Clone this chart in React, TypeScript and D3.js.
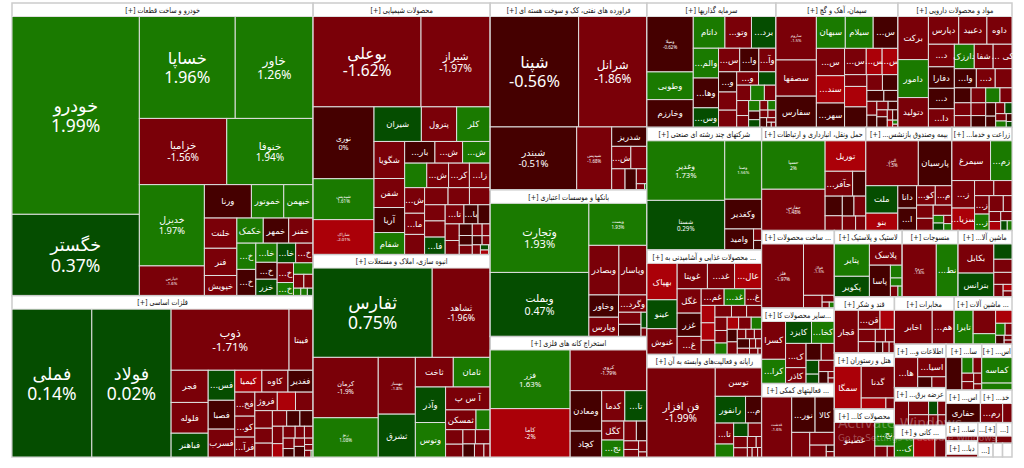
import * as d3 from "d3";

type Stock = [string, number, number]; // label, size, percent change

const groupTitles = [
  "خودرو و ساخت قطعات [+]", "فلزات اساسی [+]", "محصولات شیمیایی [+]", "انبوه سازی، املاک و مستغلات [+]",
  "فراورده های نفتی، کک و سوخت هسته ای [+]", "بانکها و موسسات اعتباری [+]", "استخراج کانه های فلزی [+]",
  "سرمایه گذاریها [+]", "سیمان، آهک و گچ [+]", "مواد و محصولات دارویی [+]",
  "شرکتهای چند رشته ای صنعتی [+]", "... محصولات غذایی و آشامیدنی به [+]", "رایانه و فعالیت‌های وابسته به آن [+]",
  "حمل ونقل، انبارداری و ارتباطات [+]", "بیمه وصندوق بازنشس... [+]", "زراعت و خدما... [+]",
  "... ساخت محصولات [+]", "...سایر محصولات کا [+]", "... فعالیتهای کمکی [+]",
  "لاستیک و پلاستیک [+]", "منسوجات [+]", "ماشین آلا... [+]",
  "قند و شکر [+]", "هتل و رستوران [+]", "محصولات کا... [+]",
  "مخابرات [+]", "... ماشین آلات [+]",
  "اطلاعات و... [+]", "عرضه برق... [+]", "... کانی و [+]",
  "سا... [+]", "اس... [+]", "اس... [+]", "خد... [+]", "سا... [+]", "دبا... [+]", "[+]...", "[...", "[...", "", "",
];
const groupSizes = [
  87892, 48461, 44427, 35754, 29202, 22922, 18840, 16000, 15128, 14136, 14022, 11970, 11742, 10712, 8858, 6180,
  5616, 5472, 5328, 4488, 3696, 3564, 3363, 3360, 2880, 2820, 2726, 2244, 1938, 1632, 1632, 1386, 1120, 1024, 576,
  512, 380, 320, 210, 130, 130,
];

const autoStocks: Stock[] = [
  ["خودرو", 24625, 1.99], ["خگستر", 10125, 0.37], ["خساپا", 9552, 1.96], ["خاور", 7761, 1.26],
  ["خزامیا", 5655, -1.56], ["خنوفا", 5590, 1.94], ["خدیزل", 5166, 1.97], ["خپارس", 1890, -1.6],
  ["ورنا", 1536, -0.6], ["خموتور", 1056, 1.5], ["خبهمن", 960, 1.4], ["خلنت", 960, -1.6], ["فنر", 864, -1.7],
  ["خپویش", 640, -1.5], ["خکمک", 648, 1.5], ["خمهر", 624, -0.5], ["خفنر", 600, -1.4], ["خ...", 486, 1.3],
  ["خ...", 486, -0.4], ["خا...", 399, 1.4], ["خ...", 352, -0.5], ["خزر", 342, 0.6], ["خا...", 357, 0.4],
  ["خ...", 336, -1.6], ["خ...", 315, -1.6], ["خ...", 210, 1.2], ["", 220, 1.3], ["", 140, -1.7], ["", 126, -1.5],
  ["", 53, 1.5], ["", 48, 1.2], ["", 42, 0.6],
];
const metalStocks: Stock[] = [
  ["فملی", 11376, 0.14], ["فولاد", 11304, 0.02], ["ذوب", 6950, -1.71], ["فیبتا", 1420, -1.5], ["فجر", 1150, -1.6],
  ["فلوله", 1100, -1.5], ["فباهنر", 850, 0.5], ["فس...", 770, 0.6], ["فصبا", 740, -0.5], ["فسرب", 715, -1.4],
  ["کیمیا", 570, -2], ["کاوه", 550, -1.6], ["فغدیر", 530, -0.7], ["فخ...", 465, -1.5], ["کو...", 405, -1.7],
  ["فرآ...", 385, -1.5], ["فروژ", 400, -1.6], ["", 325, -2], ["", 315, -1.5], ["", 297, -1.5], ["", 252, -1.7],
  ["", 234, -1.4], ["", 215, -1.6], ["", 199, -0.5], ["", 199, -0.6], ["", 180, -1.5], ["", 138, -2.1], ["", 138, -1.5],
  ["", 106, -1.6], ["", 100, -1.7], ["", 111, -1.5], ["", 90, -0.6], ["", 83, -1.5], ["", 106, -0.4], ["", 53, -1.5],
  ["", 48, -1.6], ["", 42, -1.5], ["", 13, 1.2],
];
const chemStocks: Stock[] = [
  ["بوعلی", 9222, -1.62], ["شیراز", 5916, -1.97], ["نوری", 4140, 0], ["شپدیس", 2357, 1.61], ["شاراک", 2012, -2.01],
  ["شیران", 1551, 0.5], ["پترول", 1155, -1.6], ["کلر", 1100, 1.5], ["شگویا", 1073, -1.5], ["شفن", 841, -1.6],
  ["آریا", 725, -0.5], ["شفام", 638, 1.3], ["بار...", 621, -0.6], ["ش...", 567, -1.7], ["ش...", 567, 1.2], ["", 513, 1.4],
  ["ش...", 506, -1.5], ["کر...", 483, -1.6], ["زا...", 483, -1.5], ["ش...", 483, -1.7], ["ما...", 399, -1.6],
  ["", 380, -1.5], ["", 380, -1.6], ["", 346, -1.5], ["", 336, -1.7], ["", 315, -1.6], ["", 315, -1.5],
  ["فا...", 340, 0.5], ["تا...", 340, -1.6], ["با...", 255, -0.6], ["", 221, -0.5], ["", 221, -1.5],
  ["", 187, -1.6], ["", 143, -0.7], ["", 120, -0.6], ["", 115, -1.5], ["", 110, -1.7], ["", 90, -1.5], ["", 85, -0.5],
  ["", 70, -1.6], ["", 75, -1.5], ["", 40, 0.6], ["", 35, -2], ["", 15, 1.3],
];
const buildStocks: Stock[] = [
  ["ثفارس", 10062, 0.75], ["ثشاهد", 4902, -1.96], ["کرمان", 3720, -1.9], ["ربو", 2418, 1.08], ["ثبهساز", 1995, -1.8],
  ["ثشرق", 1505, 0.5], ["ثاخت", 1064, -1.7], ["ثامان", 1036, 1.3], ["وآذر", 1015, 0.4], ["وتوس", 986, 1.2],
  ["آ س پ", 966, -1.6], ["ثمسکن", 570, -1.5], ["", 266, 1.3], ["", 238, -1.6], ["", 210, -1.5], ["", 168, -1.7],
  ["", 200, -1.5], ["", 143, -0.5], ["", 117, -1.6], ["", 78, -1.5],
];
const refineStocks: Stock[] = [
  ["شپنا", 9504, -0.56], ["شرانل", 7344, -1.86], ["شبندر", 5292, -0.51], ["شپدیس", 2142, -1.68], ["شدریز", 666, -0.6],
  ["ش...", 418, -1.5], ["", 352, -1.7], ["", 273, -1.6], ["", 231, -0.5], ["", 154, -1.5], ["", 49, -1.6], ["", 14, 1.5],
];
const bankStocks: Stock[] = [
  ["وتجارت", 6596, 1.93], ["وبملت", 6111, 0.47], ["وپست", 2360, 1.93], ["وبصادر", 1440, -1.6], ["وپاسار", 1344, -1.5],
  ["وخاور", 638, -0.5], ["وپارس", 551, -1.6], ["وگرد...", 476, -1.5], ["", 264, -1.6], ["", 264, -0.6], ["", 90, 0.5],
  ["", 48, -1.7],
];
const mineStocks: Stock[] = [
  ["فزر", 4446, 1.63], ["کاما", 3666, -2], ["کروی", 2964, -1.79], ["ومعادن", 1209, -0.5], ["کچاد", 775, -0.6],
  ["کدما", 667, -1.6], ["تا...", 638, 0.5], ["کگل", 399, -1.5], ["نج...", 357, 1.4], ["", 234, -1.5], ["", 198, -0.6],
  ["", 120, -1.6], ["", 105, -1.7], ["", 88, -1.5], ["", 40, -1.6],
];
const investStocks: Stock[] = [
  ["ومیلا", 2376, -0.62], ["وطوبی", 1188, 1.5], ["وخارزم", 1188, -0.6], ["داتام", 930, 1.4], ["وتو...", 780, -1.6],
  ["برد...", 720, 0.5], ["والم...", 696, 1.3], ["وها...", 696, -0.5], ["وس...", 456, 0.4], ["س...", 462, -1.7],
  ["وا...", 418, -0.6], ["وآ...", 374, -1.5], ["و...", 340, -0.7], ["", 306, -1.5], ["", 289, -1.6], ["و...", 270, -1.7],
  ["", 216, 0.6], ["", 198, -1.5], ["", 195, 1.3], ["", 165, -1.6], ["", 165, -1.5], ["", 130, -1.5], ["", 110, 1.4],
  ["", 90, -0.6], ["", 80, 0.5], ["", 70, -1.6], ["", 72, 1.3], ["", 56, -1.5], ["", 56, -1.6], ["", 60, -0.5],
  ["", 40, -1.5], ["", 22, -0.5], ["", 22, -1.6],
];
const cementStocks: Stock[] = [
  ["ساروم", 1600, -1.5], ["سصفها", 1332, -1.6], ["سفارس", 1147, -0.5], ["سبهان", 840, 1.4], ["سیلام", 810, 1.4],
  ["س...", 720, -0.6], ["س...", 702, -1.5], ["سند...", 702, -2.1], ["سهر...", 624, -0.5], ["س...", 520, -1.5],
  ["س...", 380, -2], ["س...", 380, -2], ["", 240, -1.6], ["", 416, -2], ["", 416, -0.5], ["", 224, -1.5], ["", 224, -0.5],
  ["", 168, -0.5], ["", 140, -0.6], ["", 126, -1.5], ["", 110, -0.5], ["", 88, -1.5], ["", 77, -0.6], ["", 66, -1.5],
  ["", 100, -0.5], ["", 50, -1.5], ["", 50, -0.6], ["", 35, -2], ["", 20, 1.2], ["", 15, -1.5],
];
const pharmaStocks: Stock[] = [
  ["برکت", 1176, -1.5], ["دامور", 1036, 1.4], ["دتولید", 812, -1.6], ["دپارس", 754, -1.5], ["دعبید", 702, -1.6],
  ["داوه", 624, -1.5], ["د...", 525, -1.6], ["دفارا", 500, -0.6], ["د...", 475, -0.5], ["دا...", 432, -1.5],
  ["دارزک", 437, 1.4], ["شفا", 414, -1.6], ["کی ...", 414, -1.5], ["وا...", 378, -0.6], ["د...", 324, -1.6], ["", 288, -1.5],
  ["", 224, -0.7], ["", 192, -1.5], ["", 176, -1.6], ["", 196, -1.5], ["", 168, -1.6], ["", 154, -0.5], ["", 190, 1.3],
  ["", 160, -1.5], ["", 120, -0.6], ["", 100, -0.5], ["", 90, -1.5], ["", 70, 0.5], ["", 70, -1.5], ["", 60, 1.2],
  ["", 40, -0.6], ["", 30, 0.5],
];
const multiStocks: Stock[] = [
  ["وغدیر", 4366, 1.73], ["شستا", 3626, 0.29], ["وصنا", 2035, 1.56], ["وکغدیر", 1036, -0.5], ["وامید", 567, -0.6],
  ["", 88, -1.5], ["", 72, -0.5],
];
const foodStocks: Stock[] = [
  ["بهپاک", 952, -2.1], ["عینو", 756, 0.5], ["غنوش", 672, -1.6], ["غویتا", 667, -1.5], ["غد...", 598, -1.6],
  ["عال...", 598, -2], ["غگل", 506, -1.5], ["غزر", 484, -0.5], ["غ...", 374, -1.6], ["غم...", 330, -1.5],
  ["غد...", 300, 1.4], ["غ...", 240, -1.7], ["", 208, -2.1], ["", 208, -2], ["", 169, -1.5], ["", 168, -1.6],
  ["", 154, -1.5], ["", 154, -1.7], ["", 140, -1.6], ["", 132, -1.5], ["", 120, 1.3], ["", 120, -2], ["", 132, -1.5],
  ["", 110, 1.4], ["", 110, -0.6], ["", 110, -1.6], ["", 70, -1.5], ["", 70, -1.7], ["", 60, -1.5], ["", 100, -0.5],
  ["", 65, -1.6], ["", 50, -1.5], ["", 50, -1.7], ["", 45, -1.5], ["", 20, -1.6],
];
const computerStocks: Stock[] = [
  ["فن افزار", 5632, -1.99], ["توسن", 1222, -1.6], ["رانفور", 750, 0.5], ["م...", 400, -0.6], ["تا...", 357, -1.5],
  ["", 221, 1.4], ["", 180, 0.4], ["", 168, -1.6], ["", 143, -1.5], ["", 117, -1.7], ["", 90, -1.6], ["", 56, -1.5],
  ["", 42, -1.6], ["", 48, -1.5], ["", 36, -1.7],
];
const transportStocks: Stock[] = [
  ["حسیا", 2914, 2], ["حفارس", 2480, -1.48], ["توریل", 1176, -2.1], ["حآفر...", 648, -1.6], ["", 312, -0.5],
  ["", 320, -0.6], ["", 240, -1.5], ["", 220, -0.7], ["", 224, -1.6], ["", 182, -1.5], ["", 140, -1.7],
];
const insureStocks: Stock[] = [
  ["البرز", 2100, -1.5], ["پارسیان", 1344, -0.6], ["ملت", 783, 0.5], ["بنو", 493, -2], ["دانا", 374, -0.6],
  ["ا...", 374, -0.5], ["کو...", 324, -1.6], ["م...", 288, -1.5], ["", 195, -1.6], ["", 180, -1.5], ["", 171, -1.7],
  ["", 72, 1.3], ["", 70, 0.5], ["", 60, -1.5], ["", 50, 1.4],
];
const farmStocks: Stock[] = [
  ["سیمرغ", 1332, -1.6], ["زم...", 740, 1.4], ["ز...", 540, -1.5], ["سزیا...", 440, -2], ["", 252, -1.6], ["", 238, -1.5],
  ["ز...", 234, -1.7], ["ز...", 208, 1.3], ["", 195, -1.5], ["", 120, -1.6], ["", 100, -1.5], ["", 90, -2],
  ["", 90, -1.5], ["", 55, 0.5], ["", 40, 1.3],
];
const metalProductStocks: Stock[] = [
  ["فلز", 2700, -1.97], ["فولاژ", 1600, -1.5], ["", 238, -1.6], ["", 84, -1.5], ["", 42, -1.7], ["", 30, 1.2],
];
const otherProductStocks: Stock[] = [
  ["کسرا", 792, -1.6], ["کرا...", 506, 1.4], ["کایزد", 500, 0.5], ["کخا...", 440, 1.3], ["ک...", 437, -1.6],
  ["کاذر", 285, -1.5], ["", 225, -0.6], ["", 195, -1.6], ["", 154, 0.5], ["", 104, 0.4], ["", 154, -1.5],
  ["", 98, -0.5], ["", 35, -1.6], ["", 30, -1.5],
];
const supportStocks: Stock[] = [
  ["غدشت", 1652, -1.6], ["نور...", 759, -0.6], ["کالا", 627, -0.5], ["", 408, -1.5], ["", 288, -1.6], ["", 180, -1.5],
  ["", 48, -0.6], ["", 40, -1.5],
];
const rubberStocks: Stock[] = [
  ["پتایر", 990, 1.4], ["پکویر", 627, 0.5], ["پلاسک", 608, -1.6], ["پاسا", 580, -0.5], ["", 132, 1.3], ["", 84, 1.4],
  ["", 70, -1.5], ["", 40, 1.3],
];
const textileStocks: Stock[] = [["نبروج", 1640, -1.6], ["نط...", 1050, 1.4]];
const machineStocks: Stock[] = [
  ["بکابل", 891, -1.6], ["بترانس", 726, 0.5], ["", 238, 0.4], ["", 204, -1.5], ["", 187, -1.6], ["", 99, -1.5],
  ["", 50, -2], ["", 44, -1.6],
];
const sugarStocks: Stock[] = [
  ["قجار", 882, -1.6], ["قن...", 357, -1.5], ["", 238, -2], ["", 180, -1.5], ["", 165, -1.6], ["", 110, -1.5],
  ["", 99, -1.7], ["", 70, -0.5], ["", 60, -1.5], ["", 50, -1.6],
];
const hotelStocks: Stock[] = [["سمگا", 975, -2.1], ["گدنا", 896, -1.6], ["", 230, -2], ["", 80, -1.5]];
const goodsStocks: Stock[] = [["غصینو", 1254, -1.6], ["نج...", 418, 1.4], ["", 120, -1.5], ["", 70, -1.6]];
const telecomStocks: Stock[] = [["اخابر", 1080, -1.6], ["هم...", 630, -1.5]];
const tractorStocks: Stock[] = [
  ["تایرا", 510, 1.4], ["", 420, -1.6], ["", 187, 1.3], ["", 170, -2], ["", 91, 1.4], ["", 66, -1.5], ["", 60, -0.6],
  ["", 30, -1.5], ["", 25, -1.6],
];
const itStocks: Stock[] = [["ها...", 588, -1.6], ["اسیا...", 459, -1.5], ["", 130, -0.5], ["", 130, -1.6]];
const powerStocks: Stock[] = [
  ["", 240, -1.5], ["", 192, -1.6], ["", 150, -1.5], ["", 88, 0.5], ["", 81, -1.6], ["", 70, -1.5], ["", 60, -1.7],
];
const quarryStocks: Stock[] = [["ک...", 342, 1.4], ["", 380, -2], ["", 200, -1.6]];
const saStocks: Stock[] = [
  ["", 416, -0.5], ["", 140, 1.4], ["", 110, -1.6], ["", 80, -1.5], ["", 80, -1.6], ["", 70, -1.7], ["", 40, -1.5],
];
const asStocks: Stock[] = [["کماسه", 770, 1.3], ["", 210, 1.4]];
const drillStocks: Stock[] = [["حفاری", 528, -0.5]];
const khadStocks: Stock[] = [["رم...", 304, -1.6], ["", 128, -1.5]];
const sa2Stocks: Stock[] = [["", 120, -1.6]];
const dabaStocks: Stock[] = [["", 110, -1.6]];
const tail1Stocks: Stock[] = [["", 100, -1.5]];
const tail2Stocks: Stock[] = [["", 60, -1.5]];
const tail3Stocks: Stock[] = [];

const groupStocks: Stock[][] = [
  autoStocks, metalStocks, chemStocks, buildStocks, refineStocks, bankStocks, mineStocks, investStocks, cementStocks,
  pharmaStocks, multiStocks, foodStocks, computerStocks, transportStocks, insureStocks, farmStocks, metalProductStocks,
  otherProductStocks, supportStocks, rubberStocks, textileStocks, machineStocks, sugarStocks, hotelStocks, goodsStocks,
  telecomStocks, tractorStocks, itStocks, powerStocks, quarryStocks, saStocks, asStocks, drillStocks, khadStocks,
  sa2Stocks, dabaStocks, tail1Stocks, tail2Stocks, tail3Stocks, [], [],
];

const color = d3
  .scaleThreshold<number, string>()
  .domain([-1.999, -1, 0.001, 1])
  .range(["#ab0008", "#7a0008", "#450000", "#054d00", "#1a7a00"]);

const fontSize = d3.scaleLinear().domain([1600, 3000, 4500, 5500, 8000, 10000]).range([4, 5, 8, 10, 12.5, 17.5]).clamp(true);

const W = 1000;
const H = 454;
const headerH = 13.5;

const topRoot = d3.hierarchy<any>({ children: groupSizes.map((v, i) => ({ i, v })) }).sum((d) => d.v || 0);
d3.treemap<any>().tile(d3.treemapSquarify.ratio(1)).size([W, H])(topRoot);

export default function App() {
  return (
    <svg width={1024} height={468} style={{ position: "absolute", left: 0, top: 0, background: "#fff" }} fontFamily="'DejaVu Sans', sans-serif">
      <g transform="translate(12,3)">
        {(topRoot.leaves() as any[]).map((g) => {
          const gw = g.x1 - g.x0;
          const gh = g.y1 - g.y0;
          const stocks = groupStocks[g.data.i];
          const inner = d3.hierarchy<any>({ children: stocks.map((s) => ({ s, v: s[1] })) }).sum((d) => d.v || 0);
          if (stocks.length) d3.treemap<any>().tile(d3.treemapSquarify.ratio(1)).size([gw, Math.max(gh - headerH, 1)])(inner);
          return (
            <g key={g.data.i} transform={`translate(${g.x0},${g.y0})`}>
              <rect width={gw} height={gh} fill="#fff" stroke="#ccc" strokeWidth={1.5} />
              <text transform={`translate(${gw / 2},9.8) scale(0.8,1)`} fontSize={8} textAnchor="middle" direction="rtl" fill="#111">
                {groupTitles[g.data.i]}
              </text>
              <g transform={`translate(0,${headerH})`}>
                {stocks.length > 0 &&
                  (inner.leaves() as any[]).map((c, j) => {
                    const [label, size, change] = c.data.s as Stock;
                    const w = c.x1 - c.x0;
                    const h = c.y1 - c.y0;
                    const big = size >= 1600;
                    const fs = big ? fontSize(size) : 8.5;
                    return (
                      <g key={j} transform={`translate(${c.x0},${c.y0})`}>
                        <rect width={w} height={h} fill={color(change)} stroke="#dfdfdf" strokeWidth={1} />
                        {label && big && (
                          <text textAnchor="middle" fill="#fff" fontSize={fs} x={w / 2} y={h / 2 - fs * 0.2} direction="rtl">
                            {label}
                          </text>
                        )}
                        {label && big && (
                          <text textAnchor="middle" fill="#fff" fontFamily="'Noto Sans', sans-serif" fontSize={fs} x={w / 2} y={h / 2 + fs * 0.95}>
                            {`${change}%`}
                          </text>
                        )}
                        {label && !big && (
                          <text textAnchor="middle" fill="#fff" fontSize={fs} x={w / 2} y={h / 2 + fs * 0.35} direction="rtl">
                            {label}
                          </text>
                        )}
                      </g>
                    );
                  })}
              </g>
            </g>
          );
        })}
      </g>
      <text x={838} y={428} fontSize={14} fill="#fff" fillOpacity={0.3}>
        Activate Windows
      </text>
      <text x={838} y={441} fontSize={9} fill="#fff" fillOpacity={0.3}>
        Go to Settings to activate Windows.
      </text>
    </svg>
  );
}
